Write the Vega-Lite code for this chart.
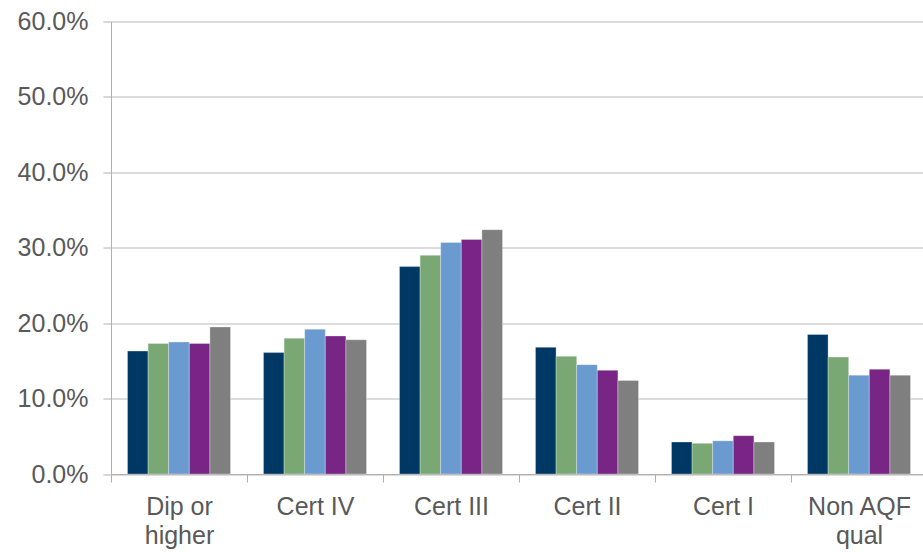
{
  "$schema": "https://vega.github.io/schema/vega-lite/v6.json",
  "autosize": {"type": "none"},
  "width": 816,
  "height": 452.5,
  "padding": {"left": 111, "top": 21.5, "right": 0, "bottom": 78},
  "background": "#ffffff",
  "config": {"view": {"stroke": null}, "font": "Liberation Sans"},
  "data": {"values": [
    {"cat": "Dip or higher", "series": "s1", "value": 0.163},
    {"cat": "Dip or higher", "series": "s2", "value": 0.173},
    {"cat": "Dip or higher", "series": "s3", "value": 0.175},
    {"cat": "Dip or higher", "series": "s4", "value": 0.173},
    {"cat": "Dip or higher", "series": "s5", "value": 0.195},
    {"cat": "Cert IV", "series": "s1", "value": 0.161},
    {"cat": "Cert IV", "series": "s2", "value": 0.180},
    {"cat": "Cert IV", "series": "s3", "value": 0.192},
    {"cat": "Cert IV", "series": "s4", "value": 0.183},
    {"cat": "Cert IV", "series": "s5", "value": 0.178},
    {"cat": "Cert III", "series": "s1", "value": 0.275},
    {"cat": "Cert III", "series": "s2", "value": 0.290},
    {"cat": "Cert III", "series": "s3", "value": 0.307},
    {"cat": "Cert III", "series": "s4", "value": 0.311},
    {"cat": "Cert III", "series": "s5", "value": 0.324},
    {"cat": "Cert II", "series": "s1", "value": 0.168},
    {"cat": "Cert II", "series": "s2", "value": 0.156},
    {"cat": "Cert II", "series": "s3", "value": 0.145},
    {"cat": "Cert II", "series": "s4", "value": 0.1375},
    {"cat": "Cert II", "series": "s5", "value": 0.124},
    {"cat": "Cert I", "series": "s1", "value": 0.0424},
    {"cat": "Cert I", "series": "s2", "value": 0.0407},
    {"cat": "Cert I", "series": "s3", "value": 0.044},
    {"cat": "Cert I", "series": "s4", "value": 0.0508},
    {"cat": "Cert I", "series": "s5", "value": 0.0424},
    {"cat": "Non AQF qual", "series": "s1", "value": 0.185},
    {"cat": "Non AQF qual", "series": "s2", "value": 0.155},
    {"cat": "Non AQF qual", "series": "s3", "value": 0.131},
    {"cat": "Non AQF qual", "series": "s4", "value": 0.139},
    {"cat": "Non AQF qual", "series": "s5", "value": 0.131}
  ]},
  "mark": {"type": "bar", "stroke": "#ffffff", "strokeWidth": 0.5, "strokeOpacity": 0.6},
  "encoding": {
    "x": {
      "field": "cat", "type": "nominal", "sort": null,
      "scale": {"paddingInner": 0, "paddingOuter": 0},
      "axis": {
        "title": null, "labelAngle": 0, "labelFontSize": 25, "labelColor": "#595959",
        "labelPadding": 12, "labelLineHeight": 29,
        "labelExpr": "datum.label == 'Dip or higher' ? ['Dip or', 'higher'] : datum.label == 'Non AQF qual' ? ['Non AQF', 'qual'] : datum.label",
        "tickBand": "extent", "tickSize": 8, "tickColor": "#b0b0b0",
        "domainColor": "#b0b0b0", "grid": false
      }
    },
    "xOffset": {"field": "series", "type": "nominal", "scale": {"paddingInner": 0, "paddingOuter": 0.8}},
    "y": {
      "field": "value", "type": "quantitative",
      "scale": {"domain": [0, 0.6], "nice": false},
      "axis": {
        "title": null, "format": ".1%", "values": [0, 0.1, 0.2, 0.3, 0.4, 0.5, 0.6],
        "labelFontSize": 25, "labelColor": "#595959", "labelPadding": 15,
        "tickSize": 8, "tickColor": "#b0b0b0", "domainColor": "#b0b0b0",
        "gridColor": "#b8b8b8", "grid": true
      }
    },
    "color": {
      "field": "series", "type": "nominal", "legend": null,
      "scale": {"domain": ["s1", "s2", "s3", "s4", "s5"], "range": ["#003865", "#79a874", "#6a9ad0", "#792585", "#7f7f7f"]}
    }
  }
}
